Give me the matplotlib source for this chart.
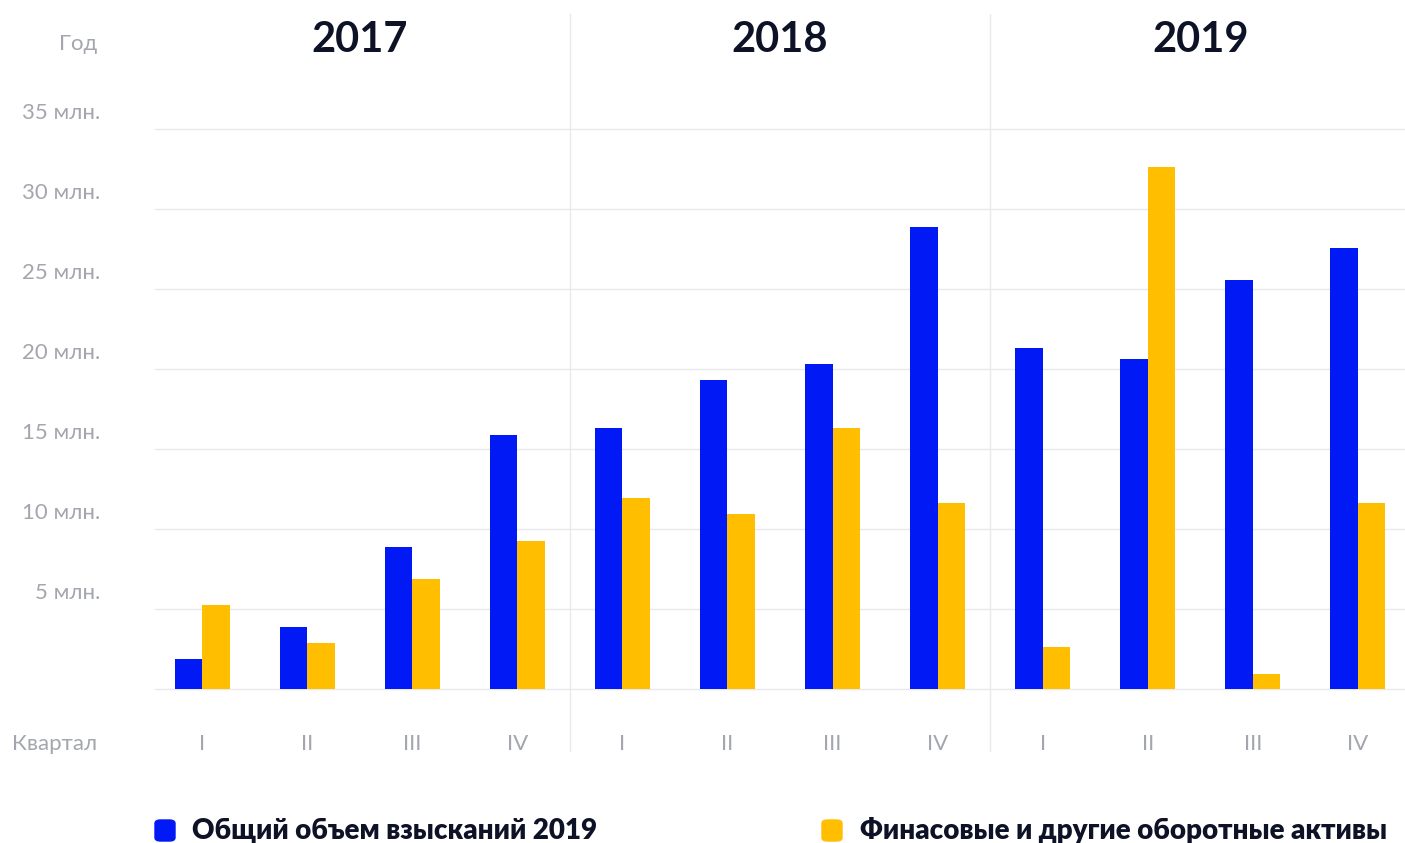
import matplotlib
matplotlib.use("Agg")
import matplotlib.pyplot as plt
import matplotlib.transforms as mtransforms
from matplotlib.patches import FancyBboxPatch

plt.rcParams['font.family'] = ['Lato', 'DejaVu Sans']

years = ["2017", "2018", "2019"]
quarters = ["I", "II", "III", "IV"] * 3
total = [1.9, 3.9, 8.9, 15.9, 16.3, 19.3, 20.3, 28.9, 21.3, 20.6, 25.6, 27.6]
assets = [5.25, 2.9, 6.9, 9.25, 11.95, 10.95, 16.3, 11.65, 2.6, 32.65, 0.95, 11.65]
yticks = [5, 10, 15, 20, 25, 30, 35]
ytick_labels = [str(v) + " млн." for v in yticks]
legend_labels = ["Общий объем взысканий 2019", "Финасовые и другие оборотные активы"]

BLUE = "#0019f5"
YELLOW = "#ffbe00"
GREY = "#a3a6ad"
DARK = "#0d1226"
GRID = "#e9e9ed"

fig = plt.figure(figsize=(14.05, 8.43), dpi=100)
ax = fig.add_axes([155/1405, 1-752/843, 1-155/1405, (752-14)/843])
ax.set_xlim(-0.45, 11.45)
ax.set_ylim(-3.94, 42.2)
ax.axis("off")

w = 0.26
xs = list(range(len(total)))
ax.bar([x - w/2 for x in xs], total, width=w, color=BLUE, zorder=3)
ax.bar([x + w/2 for x in xs], assets, width=w, color=YELLOW, zorder=3)

# grid
for v in [0] + yticks:
    ax.axhline(v, color=GRID, lw=1, zorder=1)
for sep in [3.5, 7.5]:
    ax.axvline(sep, color=GRID, lw=1, zorder=1)

# y labels
tr = mtransforms.blended_transform_factory(fig.transFigure, ax.transData)
for v, lab in zip(yticks, ytick_labels):
    ax.text(100/1405, v + 1.0, lab, transform=tr, ha="right", va="center",
            fontsize=16, color=GREY, clip_on=False)
ax.text(97/1405, 40.3, "Год", transform=tr, ha="right", va="center",
        fontsize=16, color=GREY, clip_on=False)
ax.text(97/1405, -3.44, "Квартал", transform=tr, ha="right", va="center",
        fontsize=16, color=GREY, clip_on=False)

# quarter labels
for x, q in zip(xs, quarters):
    ax.text(x, -3.44, q, ha="center", va="center", fontsize=16,
            color=GREY, clip_on=False)

# year labels
for i, y in enumerate(years):
    ax.text(1.5 + 4*i, 40.55, y, ha="center", va="center", fontsize=30,
            color=DARK, fontweight="bold", clip_on=False)

# legend
for (px, tx), col, lab in zip([(155, 192), (822, 860)], [BLUE, YELLOW], legend_labels):
    fig.add_artist(FancyBboxPatch((px/1405, 1-841/843), 20/1405, 21/843,
                                  boxstyle="round,pad=0,rounding_size=0.004",
                                  transform=fig.transFigure, color=col))
    fig.text(tx/1405, 1-831/843, lab, ha="left", va="center", fontsize=20,
             fontweight="heavy", color=DARK)

fig.savefig("out.png", dpi=100)
